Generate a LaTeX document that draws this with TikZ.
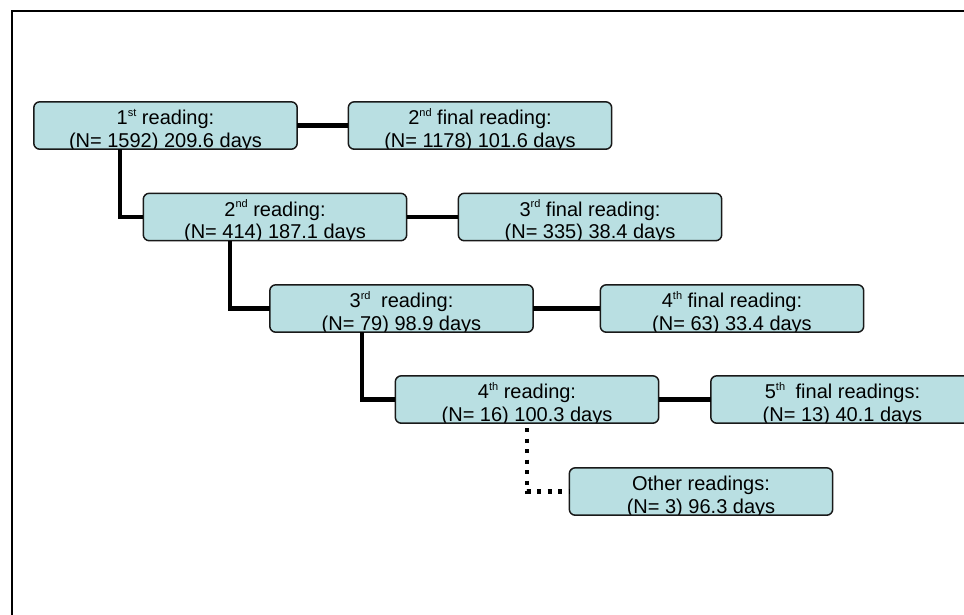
\documentclass[tikz,border=0pt]{standalone}
\usepackage{fontspec}
\setmainfont{Liberation Sans}
\definecolor{boxfill}{RGB}{185,223,226}
\newcommand\supr[1]{\raisebox{0.42em}{\fontsize{11}{11}\selectfont #1}}
\tikzset{
  boxnode/.style={fill=boxfill, draw=none, minimum width=263pt, minimum height=47pt, inner sep=0pt},
  boxborder/.style={draw=black!90, line width=1.5pt, rounded corners=6pt},
  txt/.style={inner sep=0pt, anchor=base, font=\fontsize{20}{22}\selectfont},
  link/.style={line width=4.5pt},
  dotlink/.style={line width=4.5pt, dash pattern=on 4pt off 6.5pt},
}
\newcommand\mybox[5]{%
  \node[boxnode, rounded corners=6pt] (#1) at (#2,#3) {};
  \begin{scope}
    \clip[rounded corners=6pt] (#1.south west) rectangle (#1.north east);
    \node[txt, yshift=-23pt] (#1-a) at (#1.north) {#4};
    \node[txt, yshift=-45.5pt] (#1-b) at (#1.north) {#5};
  \end{scope}
  \draw[boxborder] (#1.south west) rectangle (#1.north east);
}
\begin{document}
\begin{tikzpicture}[x=1pt,y=-1pt]
\useasboundingbox (0,0) rectangle (964,614);
\fill[white] (0,0) rectangle (964,614);
\draw[line width=2pt] (12,616) -- (12,11) -- (966,11);

\coordinate (c1) at (120,149);
\coordinate (c2) at (230,241);
\coordinate (c3) at (362,332);

\mybox{b1}{165.5}{125.5}{1\supr{st} reading:}{(N= 1592) 209.6 days}
\mybox{f2}{480}{125.5}{2\supr{nd} final reading:}{(N= 1178) 101.6 days}
\mybox{b2}{275}{217}{2\supr{nd} reading:}{(N= 414) 187.1 days}
\mybox{f3}{590}{217}{3\supr{rd} final reading:}{(N= 335) 38.4 days}
\mybox{b3}{401.5}{308.5}{3\supr{rd}\hspace{5pt} reading:}{(N= 79) 98.9 days}
\mybox{f4}{732}{308.5}{4\supr{th} final reading:}{(N= 63) 33.4 days}
\mybox{b4}{527}{399.5}{4\supr{th} reading:}{(N= 16) 100.3 days}
\mybox{f5}{842.5}{399.5}{5\supr{th}\hspace{5pt} final readings:}{(N= 13) 40.1 days}
\mybox{ot}{701}{491.5}{Other readings:}{(N= 3) 96.3 days}

\coordinate (c4) at (527,428);

\draw[link] (b1.east) -- (f2.west);
\draw[link] (b2.east) -- (f3.west);
\draw[link] (b3.east) -- (f4.west);
\draw[link] (b4.east) -- (f5.west);
\draw[link] (c1) |- (b2.west);
\draw[link] (c2) |- (b3.west);
\draw[link] (c3) |- (b4.west);
\draw[dotlink] (c4) |- (ot.west);
\end{tikzpicture}
\end{document}
